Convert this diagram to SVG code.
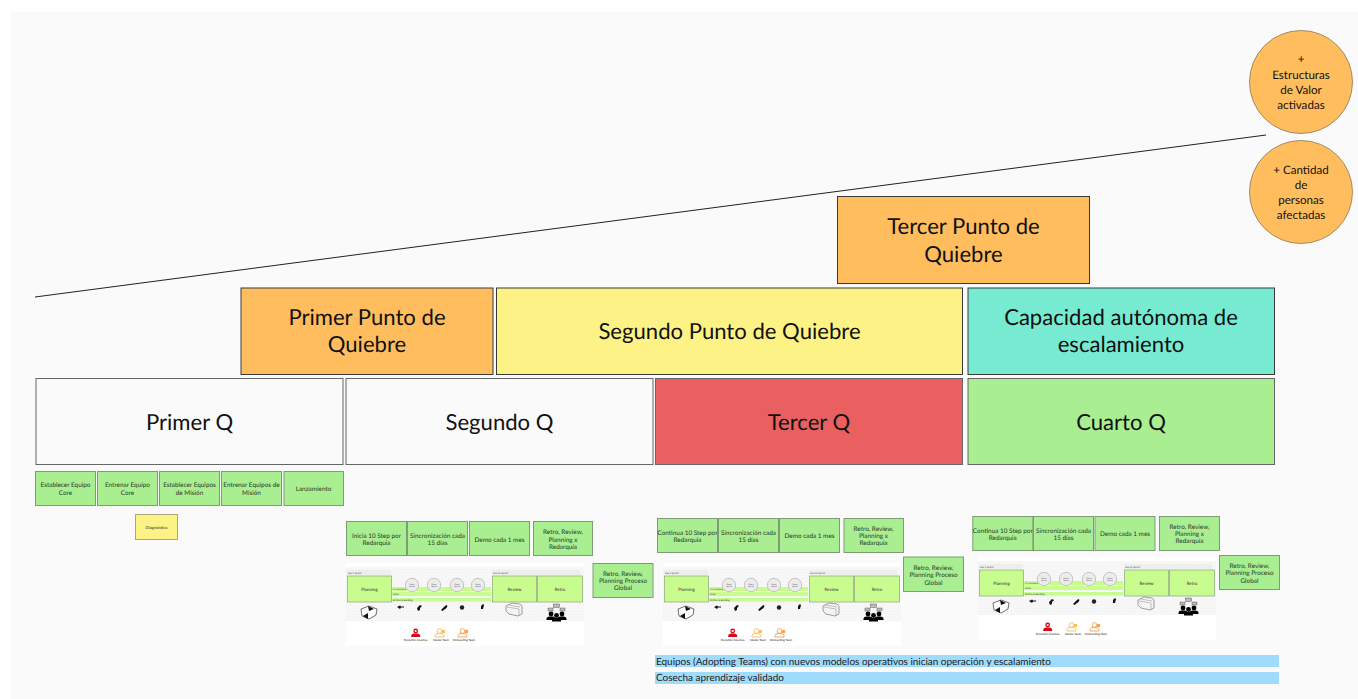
<svg xmlns="http://www.w3.org/2000/svg" xmlns:xlink="http://www.w3.org/1999/xlink" width="1358" height="699" viewBox="0 0 1358 699">
<style>
text{font-family:"Lato","Liberation Sans",sans-serif;fill:#111;text-anchor:middle;text-rendering:geometricPrecision}
.big{stroke:#3a3a3a;stroke-width:1}
.q{stroke:#666;stroke-width:1}
.h1{font-size:22.100px}
.t{fill:#a9ee90;stroke:#7f9d74;stroke-width:1}
.s{font-size:6.400px;fill:#2a3a2a}
.c{fill:#ffbd5e;stroke:#8a7a5c;stroke-width:.8}
.ct{font-size:11.600px}
.lb{fill:#9fdcfb}
.lt{font-size:9.950px;text-anchor:start;fill:#222}
.lg{fill:#c8fc8f;stroke:#8ea67a;stroke-width:.7}
.bar{fill:#c8fc8f}
.tiny{font-size:2.600px;fill:#444;text-anchor:start}
.mid{font-size:4.400px;fill:#333}
.cir{fill:#ececec;stroke:#999;stroke-width:.5}
.cirt{font-size:2.200px;fill:#555}
.ppl{font-size:2.900px;fill:#222}
</style>
<defs>
<pattern id="dots" width="3" height="3" patternUnits="userSpaceOnUse"><rect width="3" height="3" fill="#f7f7f7"/><rect width="1" height="1" fill="#f0f0f0"/></pattern>
<symbol id="person" overflow="visible"><circle cx="0" cy="-3" r="2.400"/><path d="M-4.500 3v-1.500a3 2.500 0 0 1 3-2h3a3 2.500 0 0 1 3 2v1.500z"/></symbol>
<g id="panel">
<rect x="0" y="0" width="238" height="83" fill="#fff"/>
<rect x="0" y="4" width="238" height="54" fill="url(#dots)"/>
<rect x="1" y="7" width="44" height="5" fill="#eee"/>
<text class="tiny" x="2" y="10.500">Día 1 Sprint</text>
<rect x="146" y="7" width="88" height="5" fill="#eee"/>
<text class="tiny" x="147" y="10.500">Día 14 Sprint</text>
<rect class="lg" x="1.500" y="13" width="44" height="26"/>
<text class="mid" x="23.500" y="27.500">Planning</text>
<rect class="bar" x="46" y="24" width="99" height="4"/>
<rect class="bar" x="46" y="29" width="99" height="4"/>
<rect class="bar" x="46" y="35" width="99" height="3.500"/>
<text class="tiny" x="47" y="27">2 x semana</text>
<text class="tiny" x="47" y="32">Daily</text>
<text class="tiny" x="47" y="37.800">Refinería Backlog</text>
<circle class="cir" cx="66" cy="22" r="6.700"/><circle class="cir" cx="88" cy="22" r="6.700"/><circle class="cir" cx="111" cy="22" r="6.700"/><circle class="cir" cx="132" cy="22" r="6.700"/>
<text class="cirt" x="66" y="21.500">Open</text><text class="cirt" x="66" y="24">Space</text><text class="cirt" x="88" y="21.500">Open</text><text class="cirt" x="88" y="24">Space</text><text class="cirt" x="111" y="21.500">Open</text><text class="cirt" x="111" y="24">Space</text><text class="cirt" x="132" y="21.500">Open</text><text class="cirt" x="132" y="24">Space</text>
<rect class="lg" x="146.500" y="13" width="44" height="26"/>
<text class="mid" x="168.500" y="27.500">Review</text>
<rect class="lg" x="191.500" y="13" width="45" height="26"/>
<text class="mid" x="214" y="27.500">Retro</text>
<path d="M15 46l8-3 8 3-1 6-7 4-7-3z" fill="#fff" stroke="#333" stroke-width=".7"/><path d="M22 43l6 3-5 2zM22 50l-5 3 5 3z" fill="#111"/>
<path d="M51 44l3-1.500 1 1h3v1h-3l-1 1.500z" fill="#111"/>
<path d="M71 45l3-3 2 1-2 2 0 2-2 1z" fill="#111"/><path d="M95 47l4-4 1.500-1 1 1-1 2-4 3z" fill="#111"/><circle cx="116" cy="44.500" r="2.200" fill="#222"/><path d="M135 46l0-3 2-2 1 1-1 4z" fill="#111"/>
<path d="M160 43l6-3 8 1 2 2 0 8-4 2-9-2-3-3z" fill="#f4f4f4" stroke="#777" stroke-width=".7"/><path d="M161 44l12 2v7M163 42l11 2" fill="none" stroke="#888" stroke-width=".5"/>
<rect x="202" y="45" width="5" height="3" fill="#bbb" stroke="#444" stroke-width=".4"/><rect x="207.500" y="41" width="6" height="3.500" fill="#bbb" stroke="#444" stroke-width=".4"/><rect x="214" y="45" width="5" height="3" fill="#bbb" stroke="#444" stroke-width=".4"/>
<use xlink:href="#person" href="#person" x="205" y="54" fill="#000"/><use xlink:href="#person" href="#person" x="210.500" y="55.500" fill="#000"/><use xlink:href="#person" href="#person" x="216" y="54" fill="#000"/>
<use xlink:href="#person" href="#person" x="69.700" y="71" fill="#d80c18"/><circle cx="69.700" cy="68" r="1.100" fill="#fff"/>
<use xlink:href="#person" href="#person" x="93.500" y="71" fill="none" stroke="#fbbd5e" stroke-width=".9"/><rect x="96" y="67" width="3" height="3" fill="#fbbd5e"/>
<use xlink:href="#person" href="#person" x="116.500" y="71" fill="none" stroke="#f7a24d" stroke-width=".9"/><rect x="119" y="67" width="3" height="3" fill="#f7a24d"/>
<text class="ppl" x="69.700" y="77.500">Evolution Coaches</text>
<text class="ppl" x="95" y="77.500">Master Team</text>
<text class="ppl" x="118" y="78">Onboarding Team</text>
</g>
</defs>
<rect width="1358" height="699" fill="#fff"/>
<rect x="10" y="12" width="1348" height="687" fill="#fafafa"/>
<g id="connectors"><line x1="35" y1="297" x2="1266" y2="135" stroke="#222" stroke-width="1"/></g>
<g id="circle-estructuras"><circle class="c" cx="1301" cy="82" r="51.500"/><text class="ct" x="1301" y="63">+</text><text class="ct" x="1301" y="79">Estructuras</text><text class="ct" x="1301" y="94">de Valor</text><text class="ct" x="1301" y="109">activadas</text></g>
<g id="circle-personas"><circle class="c" cx="1301" cy="192" r="51.500"/><text class="ct" x="1301" y="174">+ Cantidad</text><text class="ct" x="1301" y="189">de</text><text class="ct" x="1301" y="204">personas</text><text class="ct" x="1301" y="219">afectadas</text></g>
<g id="tercer-punto"><rect class="big" x="837.500" y="196.500" width="252" height="87" fill="#ffbd5e"/><text class="h1" x="963.500" y="234">Tercer Punto de</text><text class="h1" x="963.500" y="262">Quiebre</text></g>
<g id="primer-punto"><rect class="big" x="241" y="288" width="252" height="86.500" fill="#ffbd5e"/><text class="h1" x="367" y="325">Primer Punto de</text><text class="h1" x="367" y="352">Quiebre</text></g>
<g id="segundo-punto"><rect class="big" x="496.500" y="288" width="466" height="86.500" fill="#fdf285"/><text class="h1" x="729.500" y="339">Segundo Punto de Quiebre</text></g>
<g id="capacidad"><rect class="big" x="968" y="288" width="306.500" height="86.500" fill="#77ebd2"/><text class="h1" x="1121" y="325">Capacidad autónoma de</text><text class="h1" x="1121" y="352">escalamiento</text></g>
<g id="q1"><rect class="q" x="36" y="378.500" width="307" height="86" fill="#fafafa"/><text class="h1" x="189.500" y="430">Primer Q</text></g>
<g id="q2"><rect class="q" x="346" y="378.500" width="307" height="86" fill="#fafafa"/><text class="h1" x="499.500" y="430">Segundo Q</text></g>
<g id="q3"><rect class="q" x="655.500" y="378.500" width="307" height="86" fill="#ea5f60"/><text class="h1" x="809" y="430">Tercer Q</text></g>
<g id="q4"><rect class="q" x="968" y="378.500" width="306.500" height="86" fill="#a9ee90"/><text class="h1" x="1121" y="430">Cuarto Q</text></g>
<g id="a1"><rect class="t" x="35.500" y="471.500" width="60" height="34"/><text class="s" x="65.500" y="487">Establecer Equipo</text><text class="s" x="65.500" y="494.500">Core</text></g>
<g id="a2"><rect class="t" x="97.500" y="471.500" width="60" height="34"/><text class="s" x="127.500" y="487">Entrenar Equipo</text><text class="s" x="127.500" y="494.500">Core</text></g>
<g id="a3"><rect class="t" x="159.500" y="471.500" width="60" height="34"/><text class="s" x="189.500" y="487">Establecer Equipos</text><text class="s" x="189.500" y="494.500">de Misión</text></g>
<g id="a4"><rect class="t" x="221.500" y="471.500" width="60" height="34"/><text class="s" x="251.500" y="487">Entrenar Equipos de</text><text class="s" x="251.500" y="494.500">Misión</text></g>
<g id="a5"><rect class="t" x="284" y="471.500" width="59.500" height="34"/><text class="s" x="313.500" y="491">Lanzamiento</text></g>
<g id="diagnostico"><rect x="135.500" y="514.500" width="42" height="25" fill="#fdf285" stroke="#a8a67a" stroke-width="1"/><text x="156.500" y="528.500" style="font-size:4.200px;fill:#333">Diagnóstico</text></g>
<g id="b1"><rect class="t" x="346.500" y="521.500" width="60" height="34"/><text class="s" x="376.500" y="537.500">Inicia 10 Step por</text><text class="s" x="376.500" y="545">Redarquia</text></g>
<g id="b2"><rect class="t" x="407.500" y="521.500" width="60" height="34"/><text class="s" x="437.500" y="537.500">Sincronización cada</text><text class="s" x="437.500" y="545">15 días</text></g>
<g id="b3"><rect class="t" x="469.500" y="521.500" width="60" height="34"/><text class="s" x="499.500" y="541.500">Demo cada 1 mes</text></g>
<g id="b4"><rect class="t" x="533.500" y="521.500" width="59" height="34"/><text class="s" x="563" y="534">Retro, Review,</text><text class="s" x="563" y="541.500">Planning x</text><text class="s" x="563" y="548.500">Redarquía</text></g>
<g id="b5"><rect class="t" x="593" y="563.500" width="60" height="34"/><text class="s" x="623" y="575.500">Retro, Review,</text><text class="s" x="623" y="583">Planning Proceso</text><text class="s" x="623" y="590">Global</text></g>
<g id="panel-2"><use xlink:href="#panel" href="#panel" x="346" y="563"/></g>
<g id="c1"><rect class="t" x="657.500" y="518.500" width="60" height="34"/><text class="s" x="687.500" y="534.500">Continua 10 Step por</text><text class="s" x="687.500" y="541.500">Redarquia</text></g>
<g id="c2"><rect class="t" x="718.500" y="518.500" width="60" height="34"/><text class="s" x="748.500" y="534.500">Sincronización cada</text><text class="s" x="748.500" y="541.500">15 días</text></g>
<g id="c3"><rect class="t" x="779.500" y="518.500" width="60" height="34"/><text class="s" x="809.500" y="538">Demo cada 1 mes</text></g>
<g id="c4"><rect class="t" x="844" y="518.500" width="59.500" height="34"/><text class="s" x="873.500" y="530.500">Retro, Review,</text><text class="s" x="873.500" y="538">Planning x</text><text class="s" x="873.500" y="545">Redarquía</text></g>
<g id="c5"><rect class="t" x="903.500" y="557" width="60" height="34.500"/><text class="s" x="933.500" y="569.500">Retro, Review,</text><text class="s" x="933.500" y="577">Planning Proceso</text><text class="s" x="933.500" y="584.500">Global</text></g>
<g id="panel-3"><use xlink:href="#panel" href="#panel" x="663" y="563"/></g>
<g id="d1"><rect class="t" x="972.800" y="516.500" width="60" height="34"/><text class="s" x="1002.800" y="532.500">Continua 10 Step por</text><text class="s" x="1002.800" y="539.500">Redarquia</text></g>
<g id="d2"><rect class="t" x="1033.500" y="516.500" width="60" height="34"/><text class="s" x="1063.500" y="532.500">Sincronización cada</text><text class="s" x="1063.500" y="539.500">15 días</text></g>
<g id="d3"><rect class="t" x="1095" y="516.500" width="60" height="34"/><text class="s" x="1125" y="536">Demo cada 1 mes</text></g>
<g id="d4"><rect class="t" x="1159.500" y="516.500" width="60" height="34"/><text class="s" x="1189.500" y="528.500">Retro, Review,</text><text class="s" x="1189.500" y="536">Planning x</text><text class="s" x="1189.500" y="543">Redarquía</text></g>
<g id="d5"><rect class="t" x="1219.500" y="555.500" width="60" height="34"/><text class="s" x="1249.500" y="567.500">Retro, Review,</text><text class="s" x="1249.500" y="575">Planning Proceso</text><text class="s" x="1249.500" y="582.500">Global</text></g>
<g id="panel-4"><use xlink:href="#panel" href="#panel" x="978" y="557"/></g>
<g id="banner-1"><rect class="lb" x="655" y="655" width="624" height="12"/><text class="lt" x="656" y="664.500">Equipos (Adopting Teams) con nuevos modelos operativos inician operación y escalamiento</text></g>
<g id="banner-2"><rect class="lb" x="655" y="672" width="624" height="12"/><text class="lt" x="656" y="681">Cosecha aprendizaje validado</text></g>
</svg>
